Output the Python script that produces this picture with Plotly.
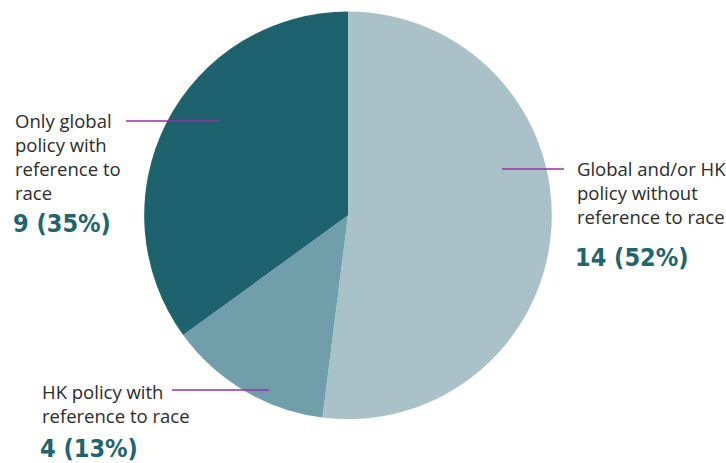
import plotly.graph_objects as go

# Survey breakdown of company policies
categories = [
    "Global and/or HK<br>policy without<br>reference to race",
    "HK policy with<br>reference to race",
    "Only global<br>policy with<br>reference to<br>race",
]
counts = [14, 4, 9]
percents = [52, 13, 35]
colors = ["#A9C1C9", "#709EAB", "#1D626D"]

W, H = 726, 463


def px(x):
    return x / W


def py(y):
    return 1 - y / H


fig = go.Figure(
    go.Pie(
        values=percents,
        labels=[c.replace("<br>", " ") for c in categories],
        marker=dict(colors=colors, line=dict(width=0)),
        sort=False,
        direction="clockwise",
        rotation=0,
        textinfo="none",
        hoverinfo="label+value",
        domain=dict(x=[px(144.2), px(551.8)], y=[py(419.1), py(11.5)]),
        showlegend=False,
    )
)

# label text positions (left edge, centre of first line, centre of number)
label_pos = [
    (575, 167, 257),
    (40, 390, 448),
    (13, 119, 224),
]
# leader lines: x0, x1, y
leaders = [
    (502, 564, 169),
    (172, 269, 390),
    (126, 220, 121),
]

annotations = []
shapes = []
for cat, n, p, (lx, ly, ny), (x0, x1, yy) in zip(categories, counts, percents, label_pos, leaders):
    annotations.append(
        dict(
            text=cat,
            x=px(lx),
            y=py(ly - 13),
            xref="paper",
            yref="paper",
            xanchor="left",
            yanchor="top",
            align="left",
            showarrow=False,
            font=dict(family="Open Sans", size=18.5, color="#2B2B2B"),
        )
    )
    annotations.append(
        dict(
            text=f"<b>{n} ({p}%)</b>",
            x=px(lx - 2),
            y=py(ny),
            xref="paper",
            yref="paper",
            xanchor="left",
            yanchor="middle",
            showarrow=False,
            font=dict(family="DejaVu Sans Condensed", size=25, color="#1F6570"),
        )
    )
    shapes.append(
        dict(
            type="line",
            xref="paper",
            yref="paper",
            x0=px(x0),
            x1=px(x1),
            y0=py(yy),
            y1=py(yy),
            line=dict(color="#9B2FA3", width=1.6),
        )
    )

fig.update_layout(
    width=W,
    height=H,
    margin=dict(l=0, r=0, t=0, b=0),
    paper_bgcolor="white",
    plot_bgcolor="white",
    annotations=annotations,
    shapes=shapes,
)

fig.write_html("out.html")
